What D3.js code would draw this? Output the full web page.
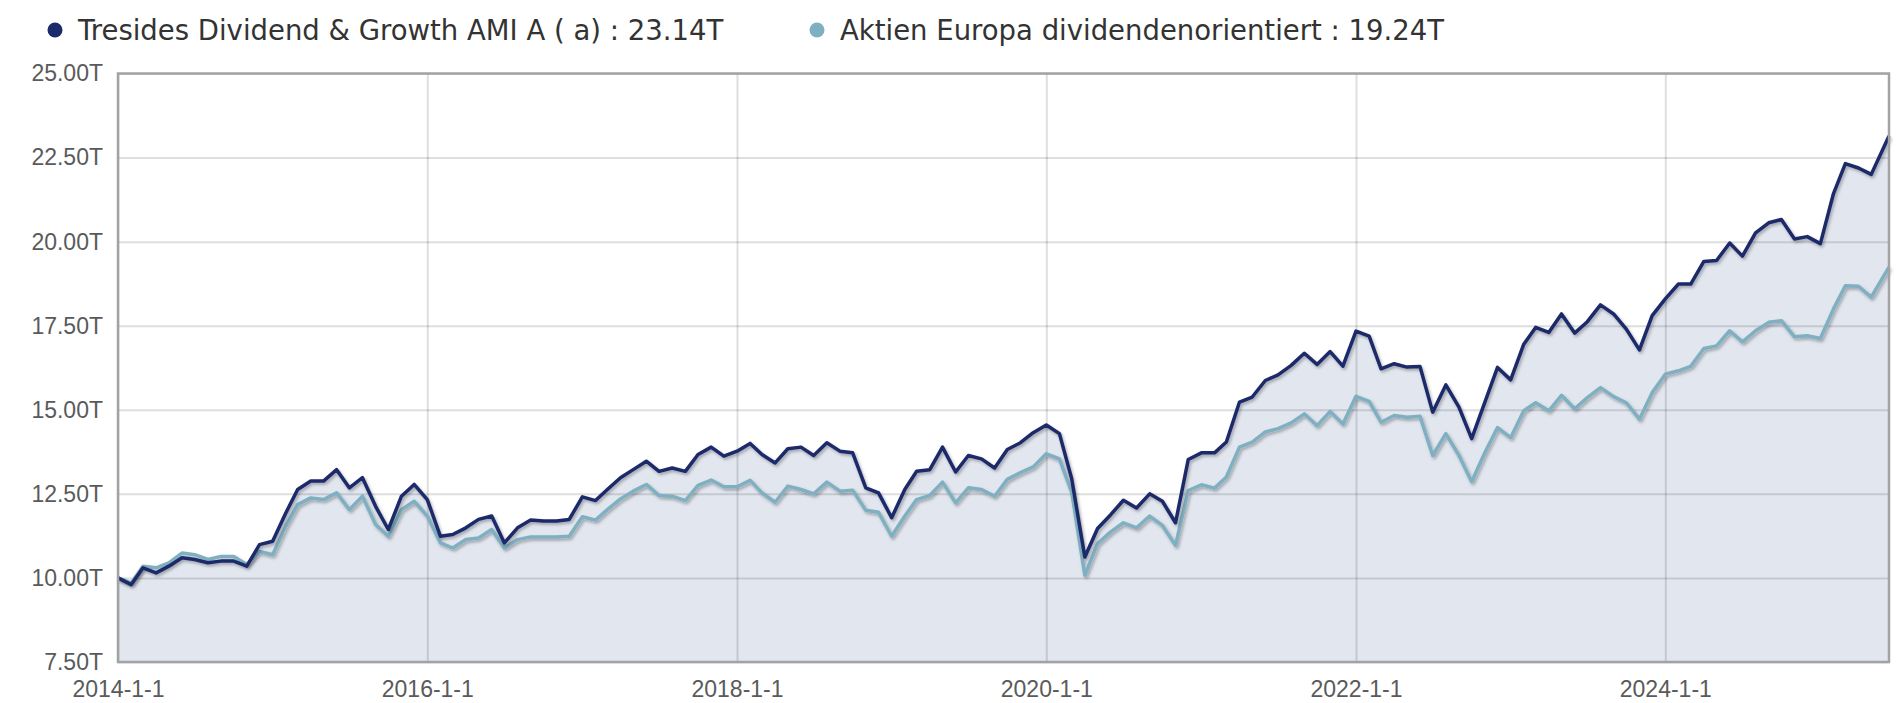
<!DOCTYPE html>
<html>
<head>
<meta charset="utf-8">
<script src="https://cdn.jsdelivr.net/npm/d3@7"></script>
<style>
  html, body { margin: 0; padding: 0; background: #fff; }
  #viz { width: 1900px; height: 703px; }
</style>
</head>
<body>
<div id="viz"></div>
<script>
// series names and the monthly values (in thousands, "T")
const seriesNames = ["Tresides Dividend & Growth AMI A ( a)", "Aktien Europa dividendenorientiert"];

const tresides = [
    10.00, 9.80, 10.30, 10.15, 10.35, 10.60, 10.55, 10.45, 10.50, 10.50, 10.35, 10.99,
    11.09, 11.93, 12.63, 12.88, 12.88, 13.22, 12.68, 12.98, 12.13, 11.44, 12.43, 12.78,
    12.33, 11.24, 11.29, 11.49, 11.74, 11.84, 11.04, 11.49, 11.72, 11.69, 11.69, 11.74,
    12.41, 12.30, 12.63, 12.98, 13.22, 13.47, 13.17, 13.27, 13.17, 13.67, 13.89, 13.62,
    13.77, 14.00, 13.67, 13.42, 13.84, 13.89, 13.64, 14.02, 13.77, 13.72, 12.68, 12.53,
    11.79, 12.63, 13.17, 13.22, 13.89, 13.15, 13.64, 13.54, 13.27, 13.82, 14.02, 14.32,
    14.55, 14.29, 12.95, 10.62, 11.47, 11.88, 12.31, 12.08, 12.50, 12.28, 11.64, 13.52,
    13.72, 13.72, 14.04, 15.23, 15.38, 15.87, 16.04, 16.32, 16.68, 16.35, 16.73, 16.30,
    17.34, 17.19, 16.22, 16.37, 16.27, 16.29, 14.93, 15.74, 15.08, 14.14, 15.22, 16.26,
    15.89, 16.95, 17.45, 17.30, 17.85, 17.28, 17.62, 18.12, 17.85, 17.40, 16.78, 17.80,
    18.30, 18.74, 18.74, 19.41, 19.44, 19.96, 19.57, 20.26, 20.56, 20.66, 20.08, 20.15,
    19.94, 21.43, 22.32, 22.19, 22.00, 23.14
];

const aktienEuropa = [
    10.00, 9.85, 10.35, 10.30, 10.45, 10.74, 10.69, 10.55, 10.64, 10.64, 10.40, 10.79,
    10.69, 11.54, 12.18, 12.38, 12.33, 12.53, 12.03, 12.43, 11.59, 11.24, 12.03, 12.28,
    11.84, 11.04, 10.89, 11.14, 11.19, 11.44, 10.89, 11.14, 11.22, 11.22, 11.22, 11.24,
    11.82, 11.72, 12.03, 12.35, 12.58, 12.78, 12.45, 12.43, 12.30, 12.75, 12.91, 12.71,
    12.71, 12.90, 12.53, 12.25, 12.73, 12.63, 12.50, 12.85, 12.58, 12.61, 12.01, 11.95,
    11.24, 11.84, 12.33, 12.45, 12.85, 12.23, 12.68, 12.63, 12.43, 12.93, 13.13, 13.30,
    13.69, 13.54, 12.55, 10.08, 11.02, 11.37, 11.64, 11.49, 11.84, 11.56, 10.97, 12.60,
    12.77, 12.67, 13.00, 13.89, 14.04, 14.34, 14.44, 14.61, 14.88, 14.53, 14.95, 14.58,
    15.40, 15.25, 14.63, 14.83, 14.78, 14.81, 13.64, 14.29, 13.64, 12.86, 13.72, 14.47,
    14.17, 14.97, 15.21, 14.97, 15.43, 15.03, 15.36, 15.66, 15.39, 15.21, 14.72, 15.51,
    16.06, 16.16, 16.29, 16.82, 16.90, 17.35, 17.02, 17.35, 17.60, 17.65, 17.17, 17.20,
    17.12, 18.00, 18.69, 18.67, 18.35, 19.24
];

// dates: first of each month, last point is the latest quote
const firstDate = new Date(2014, 0, 1);
const lastDate = new Date(2025, 5, 12);
const dates = d3.timeMonth.range(firstDate, new Date(2025, 5, 1)).concat([lastDate]);

const yTicks = [7.5, 10, 12.5, 15, 17.5, 20, 22.5, 25];
const xTickYears = [2014, 2016, 2018, 2020, 2022, 2024];

const colors = ["#1b2a6b", "#7fb0c1"];

const width = 1900, height = 703;
const margin = { top: 73.5, right: 11, bottom: 41, left: 118 };
const innerW = width - margin.left - margin.right;
const innerH = height - margin.top - margin.bottom;

const svg = d3.select("#viz")
    .append("svg")
    .attr("width", width)
    .attr("height", height)
    .style("font-family", "'DejaVu Sans', Verdana, sans-serif");

svg.append("rect").attr("width", width).attr("height", height).attr("fill", "#fff");

// line shadow
const defs = svg.append("defs");
defs.append("filter")
    .attr("id", "shadow")
    .attr("x", "-5%").attr("y", "-5%").attr("width", "110%").attr("height", "110%")
    .append("feDropShadow")
    .attr("dx", 1.5).attr("dy", 2)
    .attr("stdDeviation", 1.5)
    .attr("flood-color", "#000")
    .attr("flood-opacity", 0.3);

const g = svg.append("g").attr("transform", `translate(${margin.left},${margin.top})`);

const x = d3.scaleTime().domain([firstDate, lastDate]).range([0, innerW]);
const y = d3.scaleLinear().domain([7.5, 25]).range([innerH, 0]);

const data = dates.map((d, i) => ({ date: d, a: tresides[i], b: aktienEuropa[i] }));

// area under the top series
const area = d3.area()
    .x(d => x(d.date))
    .y0(innerH)
    .y1(d => y(d.a));

g.append("path")
    .datum(data)
    .attr("fill", "#e2e6ef")
    .attr("d", area);

// axes with grid lines
const yAxis = g.append("g")
    .call(d3.axisLeft(y)
        .tickValues(yTicks)
        .tickSize(-innerW)
        .tickPadding(15)
        .tickFormat(d => d3.format(".2f")(d) + "T"));

const xAxis = g.append("g")
    .attr("transform", `translate(0,${innerH})`)
    .call(d3.axisBottom(x)
        .tickValues(xTickYears.map(yr => new Date(yr, 0, 1)))
        .tickSize(-innerH)
        .tickPadding(19)
        .tickFormat(d => `${d.getFullYear()}-1-1`));

[yAxis, xAxis].forEach(ax => {
    ax.attr("font-size", 23);
    ax.select(".domain").remove();
    ax.selectAll(".tick line")
        .attr("stroke", "#000")
        .attr("stroke-opacity", 0.13)
        .attr("stroke-width", 2);
    ax.selectAll(".tick text")
        .attr("fill", "#5a5a5a")
        .style("font-size", "23px");
});

// the two lines
const lineA = d3.line().x(d => x(d.date)).y(d => y(d.a));
const lineB = d3.line().x(d => x(d.date)).y(d => y(d.b));

g.append("path")
    .datum(data)
    .attr("fill", "none")
    .attr("stroke", colors[1])
    .attr("stroke-width", 3.5)
    .attr("stroke-linejoin", "round")
    .attr("filter", "url(#shadow)")
    .attr("d", lineB);

g.append("path")
    .datum(data)
    .attr("fill", "none")
    .attr("stroke", colors[0])
    .attr("stroke-width", 3.5)
    .attr("stroke-linejoin", "round")
    .attr("filter", "url(#shadow)")
    .attr("d", lineA);

// plot frame
g.append("rect")
    .attr("width", innerW)
    .attr("height", innerH)
    .attr("fill", "none")
    .attr("stroke", "#a3a3a3")
    .attr("stroke-width", 2.5);

// legend
const lastVals = [tresides[tresides.length - 1], aktienEuropa[aktienEuropa.length - 1]];
const legendX = [55, 817];
const legend = svg.append("g");
seriesNames.forEach((name, i) => {
    legend.append("circle")
        .attr("cx", legendX[i])
        .attr("cy", 30)
        .attr("r", 7.5)
        .attr("fill", colors[i]);
    legend.append("text")
        .attr("x", legendX[i] + 23)
        .attr("y", 39.5)
        .attr("fill", "#333")
        .style("font-size", "27.5px")
        .text(`${name} : ${d3.format(".2f")(lastVals[i])}T`);
});
</script>
</body>
</html>
